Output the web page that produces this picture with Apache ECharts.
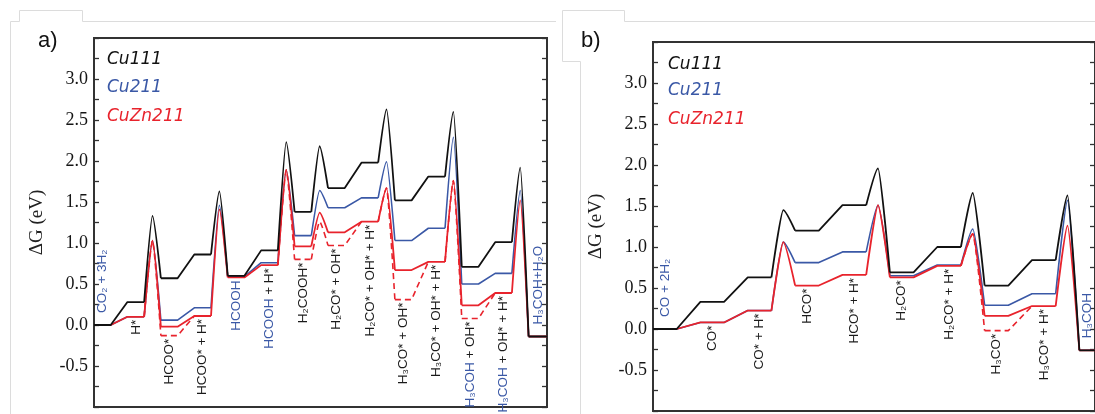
<!DOCTYPE html>
<html>
<head>
<meta charset="utf-8">
<title>Free energy diagrams</title>
<script src="https://cdn.jsdelivr.net/npm/echarts@6/dist/echarts.min.js"></script>
<style>
  html, body { margin: 0; padding: 0; background: #fff; }
  #chart { width: 1095px; height: 414px; }
</style>
</head>
<body>
<div id="chart"></div>
<script>
// a) CO2 + 3H2 -> H3COH + H2O
const statesA = ['CO₂ + 3H₂', 'H*', 'HCOO*', 'HCOO* + H*', 'HCOOH', 'HCOOH + H*', 'H₂COOH*',
  'H₂CO* + OH*', 'H₂CO* + OH* + H*', 'H₃CO* + OH*', 'H₃CO* + OH* + H*',
  'H₃COH + OH*', 'H₃COH + OH* + H*', 'H₃COH+H₂O'];
// kind of step between state i and i+1: plain shift or a barrier
const stepsA = ['lin', 'TS', 'lin', 'TS', 'lin', 'TS', 'TS', 'lin', 'TS', 'lin', 'TS', 'lin', 'TS'];
const cu111A = [0, 0.28, 0.57, 0.86, 0.60, 0.91, 1.38, 1.67, 1.98, 1.52, 1.81, 0.71, 1.01, -0.14];
const cu111A_ts = [null, 1.33, null, 1.63, null, 2.23, 2.18, null, 2.63, null, 2.60, null, 1.92];
const cu211A = [0, 0.10, 0.06, 0.21, 0.59, 0.76, 1.09, 1.43, 1.55, 1.03, 1.18, 0.50, 0.63, -0.14];
const cu211A_ts = [null, 1.03, null, 1.46, null, 1.89, 1.64, null, 1.99, null, 2.29, null, 1.64];
const cuzn211A = [0, 0.10, -0.02, 0.11, 0.58, 0.73, 0.96, 1.13, 1.26, 0.67, 0.77, 0.24, 0.39, -0.14];
const cuzn211A_ts = [null, 1.03, null, 1.41, null, 1.89, 1.37, null, 1.67, null, 1.76, null, 1.52];
// dashed CuZn211 alternative (other adsorption site)
const cuzn211A_alt = [null, null, -0.13, null, null, null, 0.80, 0.97, null, 0.31, null, 0.08, null, null];
const cuzn211A_altTs = [null, null, null, null, null, null, 1.26, null, null, null, null, null, null];

// b) CO + 2H2 -> H3COH
const statesB = ['CO + 2H₂', 'CO*', 'CO* + H*', 'HCO*', 'HCO* + H*', 'H₂CO*', 'H₂CO* + H*',
  'H₃CO*', 'H₃CO* + H*', 'H₃COH'];
const stepsB = ['lin', 'lin', 'TS', 'lin', 'TS', 'lin', 'TS', 'lin', 'TS'];
const cu111B = [0, 0.33, 0.63, 1.20, 1.51, 0.69, 1.00, 0.53, 0.84, -0.26];
const cu111B_ts = [null, null, 1.45, null, 1.96, null, 1.66, null, 1.63];
const cu211B = [0, 0.08, 0.225, 0.81, 0.94, 0.65, 0.78, 0.29, 0.43, -0.26];
const cu211B_ts = [null, null, 1.06, null, 1.51, null, 1.22, null, 1.57];
const cuzn211B = [0, 0.08, 0.225, 0.53, 0.66, 0.63, 0.77, 0.16, 0.28, -0.26];
const cuzn211B_ts = [null, null, 1.06, null, 1.51, null, 1.16, null, 1.26];
const cuzn211B_alt = [null, null, null, null, null, null, null, -0.02, null, null];
const cuzn211B_altTs = [null, null, null, null, null, null, null, null, null];

const gasPhase = ['CO₂ + 3H₂', 'HCOOH', 'H₃COH', 'H₃COH+H₂O', 'CO + 2H₂'];
const surfaces = ['Cu111', 'Cu211', 'CuZn211'];

const BLACK = '#111111', BLUE = '#3a58a6', RED = '#e8232c';
const LABEL_FONT = '13.5px "Liberation Sans", "DejaVu Sans", sans-serif';
const X_END = [27.1, 18.66];

// state i sits on [2i, 2i+1], the step to i+1 on [2i+1, 2i+2]
function tracePath(levels, barriers, steps, xEnd) {
  const flat = [], peaks = [];
  const n = levels.length;
  levels.forEach((e, i) => {
    flat.push([2 * i, e], [i === n - 1 ? xEnd : 2 * i + 1, e]);
    if (i < n - 1 && steps[i] === 'TS') {
      flat.push(null);
      peaks.push([2 * i + 1, e], [2 * i + 1.5, barriers[i]], [2 * i + 2, levels[i + 1]], null);
    }
  });
  return { flat, peaks };
}

function traceAlt(alt, altBarriers, levels, barriers, steps) {
  const flat = [], peaks = [];
  alt.forEach((e, j) => {
    if (e == null) return;
    if (j > 0 && alt[j - 1] == null) {
      if (steps[j - 1] === 'TS') peaks.push([2 * j - 1, levels[j - 1]], [2 * j - 0.5, barriers[j - 1]], [2 * j, e], null);
      else flat.push([2 * j - 1, levels[j - 1]]);
    }
    flat.push([2 * j, e], [2 * j + 1, e]);
    if (j < alt.length - 1) {
      const next = alt[j + 1] != null ? alt[j + 1] : levels[j + 1];
      if (steps[j] === 'TS') {
        flat.push(null);
        const b = altBarriers[j] != null ? altBarriers[j] : barriers[j];
        peaks.push([2 * j + 1, e], [2 * j + 1.5, b], [2 * j + 2, next], null);
      } else if (alt[j + 1] == null) {
        flat.push([2 * j + 2, next], null);
      }
    }
  });
  return { flat, peaks };
}

function curveSeries(name, color, width, z, path, g, dashed) {
  const common = {
    type: 'line', name, xAxisIndex: g, yAxisIndex: 2 * g, symbol: 'none', silent: true, z,
    lineStyle: { color, width, type: dashed ? [6, 4] : 'solid' }
  };
  return [
    Object.assign({}, common, { data: path.flat }),
    Object.assign({}, common, { data: path.peaks, smooth: 0.2, smoothMonotone: 'x' })
  ];
}

function panelSeries(g, states, steps, c111, c111ts, c211, c211ts, czn, czngts, alt, altTs) {
  const xe = X_END[g];
  return [].concat(
    curveSeries('Cu211', BLUE, 1.6, 2, tracePath(c211, c211ts, steps, xe), g),
    curveSeries('CuZn211', RED, 1.8, 3, tracePath(czn, czngts, steps, xe), g),
    curveSeries('CuZn211 alt', RED, 1.6, 3, traceAlt(alt, altTs, czn, czngts, steps), g, true),
    curveSeries('Cu111', BLACK, 1.8, 4, tracePath(c111, c111ts, steps, xe), g)
  );
}

function yAxes(g) {
  const base = {
    gridIndex: g, type: 'value', min: -1, max: 3.5, interval: 0.25,
    splitLine: { show: false }, axisLine: { show: false },
    axisTick: { show: true, inside: true, length: 5, lineStyle: { color: '#333', width: 1.3 } }
  };
  return [
    Object.assign({}, base, {
      position: 'left', name: 'ΔG (eV)', nameLocation: 'middle', nameGap: 47,
      nameTextStyle: { fontFamily: '"Liberation Serif", serif', fontSize: 19, color: '#222' },
      axisLabel: {
        margin: 6, fontFamily: '"Liberation Serif", serif', fontSize: 18, color: '#151515',
        formatter: v => (Math.abs(v * 2 - Math.round(v * 2)) < 1e-6 && v >= -0.5 && v <= 3.0) ? v.toFixed(1) : ''
      }
    }),
    Object.assign({}, base, { position: 'right', axisLabel: { show: false } })
  ];
}

const chart = echarts.init(document.getElementById('chart'));
chart.setOption({
  animation: false,
  backgroundColor: '#fff',
  grid: [
    { left: 94, top: 38, width: 453, height: 369, show: true, borderColor: '#333', borderWidth: 2, backgroundColor: 'transparent' },
    { left: 653, top: 42, width: 443, height: 369, show: true, borderColor: '#333', borderWidth: 2, backgroundColor: 'transparent' }
  ],
  xAxis: [
    { gridIndex: 0, type: 'value', min: 0, max: X_END[0], show: false },
    { gridIndex: 1, type: 'value', min: 0, max: X_END[1], show: false }
  ],
  yAxis: yAxes(0).concat(yAxes(1)),
  series: [].concat(
    panelSeries(0, statesA, stepsA, cu111A, cu111A_ts, cu211A, cu211A_ts, cuzn211A, cuzn211A_ts, cuzn211A_alt, cuzn211A_altTs),
    panelSeries(1, statesB, stepsB, cu111B, cu111B_ts, cu211B, cu211B_ts, cuzn211B, cuzn211B_ts, cuzn211B_alt, cuzn211B_altTs)
  )
});

function richName(name) {
  if (gasPhase.includes(name)) return '{g|' + name + '}';
  const parts = name.split(' + ');
  if (gasPhase.includes(parts[0])) return '{g|' + parts[0] + '} + ' + parts.slice(1).join(' + ');
  return name;
}

function stateLabels(states, curves, alt, g) {
  const n = states.length;
  return states.map((name, i) => {
    const xc = i === n - 1 ? (2 * i + X_END[g]) / 2 : 2 * i + 0.5;
    const vals = curves.map(c => c[i]).concat(alt[i] != null ? [alt[i]] : []);
    const above = i === 0 || i === n - 1;
    const e = above ? Math.max(...vals) : Math.min(...vals);
    const p = chart.convertToPixel({ xAxisIndex: g, yAxisIndex: 2 * g }, [xc, e]);
    return {
      type: 'text', x: p[0], y: above ? p[1] - 12 : p[1] + 3, rotation: Math.PI / 2, silent: true, z: 10,
      style: {
        text: richName(name), align: above ? 'left' : 'right', verticalAlign: 'middle',
        font: LABEL_FONT, fill: '#1a1a1a',
        rich: { g: { font: LABEL_FONT, fill: BLUE } }
      }
    };
  });
}

function legendTexts(x, ys) {
  const colors = [BLACK, BLUE, RED];
  return surfaces.map((s, i) => ({
    type: 'text', x, y: ys[i], silent: true, z: 10,
    style: { text: s, font: 'oblique 17px "DejaVu Sans", sans-serif', fill: colors[i], verticalAlign: 'middle' }
  }));
}

const frame = { stroke: '#dcdcdc', lineWidth: 1, fill: null };
chart.setOption({
  graphic: [
    { type: 'polyline', silent: true, shape: { points: [[10.5, 414], [10.5, 21.5], [19.5, 21.5], [19.5, 10.5], [82.5, 10.5], [82.5, 21.5], [556, 21.5]] }, style: frame },
    { type: 'polyline', silent: true, shape: { points: [[580.5, 414], [580.5, 61.5], [562.5, 61.5], [562.5, 10.5], [624.5, 10.5], [624.5, 21.5], [1095, 21.5]] }, style: frame },
    { type: 'text', x: 38, y: 41, silent: true, style: { text: 'a)', font: '22px "Liberation Sans", sans-serif', fill: '#111', verticalAlign: 'middle' } },
    { type: 'text', x: 581, y: 41, silent: true, style: { text: 'b)', font: '22px "Liberation Sans", sans-serif', fill: '#111', verticalAlign: 'middle' } }
  ].concat(
    legendTexts(107, [60, 87.5, 116.5]),
    legendTexts(668, [65, 91, 119.5]),
    stateLabels(statesA, [cu111A, cu211A, cuzn211A], cuzn211A_alt, 0),
    stateLabels(statesB, [cu111B, cu211B, cuzn211B], cuzn211B_alt, 1)
  )
});
</script>
</body>
</html>
